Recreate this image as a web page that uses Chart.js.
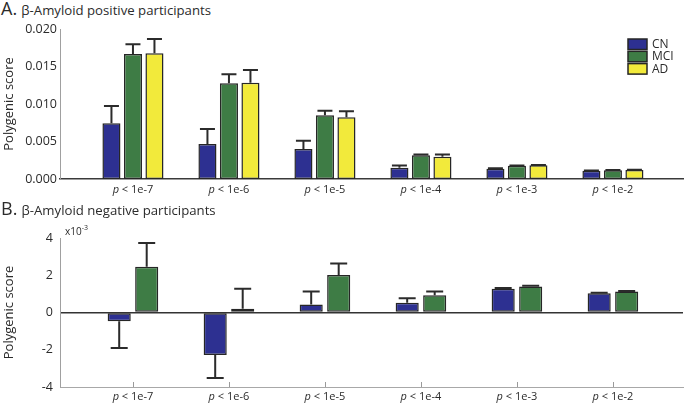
<!DOCTYPE html>
<html>
<head>
<meta charset="utf-8">
<script src="https://cdn.jsdelivr.net/npm/chart.js@4.4.1/dist/chart.umd.min.js"></script>
<style>
  html, body { margin: 0; padding: 0; background: #fff; }
  #wrap { position: relative; width: 687px; height: 406px; overflow: hidden; font-family: "Open Sans", sans-serif; color: #2b2b2b; }
  canvas { position: absolute; left: 0; }
  .ttl { position: absolute; left: 1px; white-space: nowrap; }
  .ttl b { font-weight: normal; font-size: 18px; }
  .ttl span { font-size: 13.2px; }
</style>
</head>
<body>
<div id="wrap">
  <div class="ttl" style="top:-4px"><b>A.</b> <span>β-Amyloid positive participants</span></div>
  <canvas id="posChart" width="687" height="200" style="top:0"></canvas>
  <div class="ttl" style="top:196px"><b>B.</b> <span>β-Amyloid negative participants</span></div>
  <canvas id="negChart" width="687" height="206" style="top:200px"></canvas>
</div>
<script>
// Umbrales (eje x)
const thresholds = ['1e-7', '1e-6', '1e-5', '1e-4', '1e-3', '1e-2'];
const groups = ['CN', 'MCI', 'AD'];
const groupColors = ['#2d3091', '#3e7c45', '#f2ea3b'];

// Panel A: beta-amiloide positivo
const posCN = [0.00742, 0.00467, 0.00400, 0.00150, 0.00137, 0.00111];
const posMCI = [0.01668, 0.01276, 0.00850, 0.00316, 0.00177, 0.00116];
const posAD = [0.01677, 0.01284, 0.00822, 0.00297, 0.00182, 0.00120];
const posCNErr = [0.0023, 0.0020, 0.0011, 0.0003, 0.00005, 0.00003];
const posMCIErr = [0.0013, 0.0012, 0.0006, 0.0001, 0.00004, 0.00003];
const posADErr = [0.0019, 0.0017, 0.0008, 0.0003, 0.00004, 0.00003];
const posTicks = [0, 0.005, 0.010, 0.015, 0.020];

// Panel B: beta-amiloide negativo (x10^-3)
const negCN = [-0.47, -2.28, 0.43, 0.52, 1.28, 1.04];
const negMCI = [2.46, 0.20, 2.01, 0.92, 1.39, 1.13];
const negCNErr = [1.43, 1.24, 0.70, 0.25, 0.04, 0.02];
const negMCIErr = [1.27, 1.08, 0.62, 0.21, 0.04, 0.02];
const negTicks = [-4, -2, 0, 2, 4];

const TXT = '#2b2b2b';
const FONT = '"Open Sans", sans-serif';

function toPoints(arr) {
    return arr.map((v, i) => ({ x: i, y: v }));
}

function makeDataset(label, values, errors, color) {
    return {
        label: label,
        data: toPoints(values),
        errors: errors,
        backgroundColor: color,
        borderColor: '#262626',
        borderWidth: 1.5,
        borderSkipped: false
    };
}

// Barras de error (solo hacia fuera del cero)
const errorBars = {
    id: 'errorBars',
    afterDatasetsDraw(chart, args, opts) {
        const ctx = chart.ctx;
        const y = chart.scales.y;
        chart.data.datasets.forEach((ds, i) => {
            const meta = chart.getDatasetMeta(i);
            meta.data.forEach((bar, j) => {
                const v = ds.data[j].y;
                const e = ds.errors[j];
                const end = v >= 0 ? v + e : v - e;
                const yEnd = y.getPixelForValue(end);
                ctx.save();
                ctx.strokeStyle = '#2b2b2b';
                ctx.lineWidth = 2;
                ctx.beginPath();
                ctx.moveTo(bar.x, bar.y);
                ctx.lineTo(bar.x, yEnd);
                ctx.moveTo(bar.x - opts.cap / 2, yEnd);
                ctx.lineTo(bar.x + opts.cap / 2, yEnd);
                ctx.stroke();
                ctx.restore();
            });
        });
    }
};

// Etiquetas del eje x con "p" en cursiva
const xLabels = {
    id: 'xLabels',
    afterDraw(chart, args, opts) {
        const ctx = chart.ctx;
        const x = chart.scales.x;
        ctx.save();
        ctx.fillStyle = TXT;
        ctx.textBaseline = 'middle';
        ctx.textAlign = 'left';
        thresholds.forEach((t, i) => {
            const px = x.getPixelForValue(i);
            const rest = ' < ' + t;
            ctx.font = 'italic 11px ' + FONT;
            const wp = ctx.measureText('p').width;
            ctx.font = '11px ' + FONT;
            const wr = ctx.measureText(rest).width;
            const x0 = px - (wp + wr) / 2;
            ctx.font = 'italic 11px ' + FONT;
            ctx.fillText('p', x0, opts.y);
            ctx.font = '11px ' + FONT;
            ctx.fillText(rest, x0 + wp, opts.y);
            if (opts.ticks) {
                ctx.strokeStyle = '#9a9a9a';
                ctx.lineWidth = 1;
                ctx.beginPath();
                ctx.moveTo(Math.round(px) + 0.5, chart.chartArea.bottom);
                ctx.lineTo(Math.round(px) + 0.5, chart.chartArea.bottom - 5);
                ctx.stroke();
            }
        });
        ctx.restore();
    }
};

// Leyenda dibujada dentro del panel A
const boxLegend = {
    id: 'boxLegend',
    afterDraw(chart) {
        if (!chart.options.plugins.boxLegend.show) return;
        const ctx = chart.ctx;
        ctx.save();
        groups.forEach((g, i) => {
            const top = 39 + i * 12.3;
            ctx.fillStyle = groupColors[i];
            ctx.fillRect(628, top, 19, 10.5);
            ctx.strokeStyle = '#262626';
            ctx.lineWidth = 1.5;
            ctx.strokeRect(628, top, 19, 10.5);
            ctx.fillStyle = TXT;
            ctx.font = '12px ' + FONT;
            ctx.textBaseline = 'middle';
            ctx.fillText(g, 652, top + 5.5);
        });
        ctx.restore();
    }
};

// Multiplicador x10^-3 del panel B
const multiplier = {
    id: 'multiplier',
    afterDraw(chart) {
        if (!chart.options.plugins.multiplier.show) return;
        const ctx = chart.ctx;
        ctx.save();
        ctx.fillStyle = TXT;
        ctx.textBaseline = 'alphabetic';
        ctx.font = '10px ' + FONT;
        ctx.fillText('x10', 65, 35);
        const w = ctx.measureText('x10').width;
        ctx.font = '7px ' + FONT;
        ctx.fillText('-3', 65 + w, 30);
        ctx.restore();
    }
};

function baseOptions(cfg) {
    return {
        responsive: false,
        animation: false,
        devicePixelRatio: 1,
        layout: { padding: { top: cfg.padTop, right: 4, left: 0, bottom: 0 } },
        datasets: { bar: { categoryPercentage: cfg.catPct, barPercentage: 0.84 } },
        plugins: {
            legend: { display: false },
            tooltip: { enabled: false },
            errorBars: { cap: cfg.cap },
            xLabels: { y: cfg.labelY, ticks: cfg.xTicks },
            boxLegend: { show: cfg.legend },
            multiplier: { show: cfg.mult }
        },
        scales: {
            x: {
                type: 'linear',
                offset: false,
                min: -0.76,
                max: 5.73,
                afterBuildTicks: s => { s.ticks = thresholds.map((t, i) => ({ value: i })); },
                afterFit: s => { s.height = cfg.xHeight; },
                ticks: { display: false },
                grid: { display: false, offset: false },
                border: { display: true, color: cfg.xBorder, width: cfg.xBorderW }
            },
            y: {
                min: cfg.yTicks[0],
                max: cfg.yTicks[cfg.yTicks.length - 1],
                afterBuildTicks: s => { s.ticks = cfg.yTicks.map(v => ({ value: v })); },
                afterFit: s => { s.width = 60; },
                ticks: {
                    color: TXT,
                    padding: cfg.yPad,
                    font: { family: FONT, size: 12.5 },
                    callback: cfg.yFmt
                },
                grid: {
                    display: cfg.zeroLine,
                    drawTicks: false,
                    lineWidth: 1.5,
                    color: c => (c.tick && c.tick.value === 0) ? '#333333' : 'rgba(0,0,0,0)'
                },
                border: { display: true, color: '#a0a0a0', width: 1 },
                title: {
                    display: true,
                    text: 'Polygenic score',
                    color: TXT,
                    font: { family: FONT, size: 13 },
                    padding: { top: 1, bottom: 0 }
                }
            }
        }
    };
}

new Chart(document.getElementById('posChart').getContext('2d'), {
    type: 'bar',
    data: {
        datasets: [
            makeDataset('CN', posCN, posCNErr, groupColors[0]),
            makeDataset('MCI', posMCI, posMCIErr, groupColors[1]),
            makeDataset('AD', posAD, posADErr, groupColors[2])
        ]
    },
    options: baseOptions({
        padTop: 29, catPct: 0.672, cap: 15, labelY: 190, xTicks: false,
        legend: true, mult: false, xHeight: 21, xBorder: '#3a3a3a', xBorderW: 1.5,
        yTicks: posTicks, yPad: 3, yFmt: v => v.toFixed(3), zeroLine: false
    }),
    plugins: [errorBars, xLabels, boxLegend, multiplier]
});

new Chart(document.getElementById('negChart').getContext('2d'), {
    type: 'bar',
    data: {
        datasets: [
            makeDataset('CN', negCN, negCNErr, groupColors[0]),
            makeDataset('MCI', negMCI, negMCIErr, groupColors[1])
        ]
    },
    options: baseOptions({
        padTop: 38, catPct: 0.573, cap: 17, labelY: 197, xTicks: true,
        legend: false, mult: true, xHeight: 19, xBorder: '#a8a8a8', xBorderW: 1,
        yTicks: negTicks, yPad: 7, yFmt: v => String(v), zeroLine: true
    }),
    plugins: [errorBars, xLabels, boxLegend, multiplier]
});
</script>
</body>
</html>
